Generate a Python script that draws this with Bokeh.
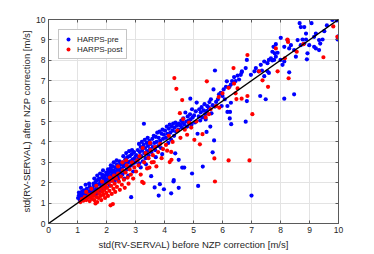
from bokeh.plotting import figure
from bokeh.models import LinearAxis, Slope, Legend, LegendItem
from bokeh.embed import file_html
from bokeh.resources import INLINE

ticks = [0, 1, 2, 3, 4, 5, 6, 7, 8, 9, 10]

pre_pts = [
    (1.02,1.25),(1.05,1.38),(1.08,1.15),(1.10,1.45),(1.12,1.30),(1.15,1.55),(1.18,1.22),(1.20,1.40),(1.22,1.62),(1.25,1.35),
    (1.27,1.50),(1.30,1.28),(1.32,1.70),(1.35,1.45),(1.37,1.58),(1.40,1.32),(1.42,1.80),(1.45,1.50),(1.47,1.65),(1.50,1.40),
    (1.12,1.75),(1.28,1.90),(1.40,1.95),(1.05,1.52),
    (1.52,1.72),(1.55,1.55),(1.57,1.88),(1.60,1.62),(1.62,2.00),(1.65,1.75),(1.67,1.48),(1.70,1.90),(1.72,2.15),(1.75,1.68),
    (1.77,1.95),(1.80,2.05),(1.82,1.80),(1.85,2.25),(1.87,1.98),(1.90,2.10),(1.92,1.85),(1.95,2.35),(1.97,2.05),(1.99,2.50),
    (1.58,2.20),(1.68,2.35),(1.78,2.45),(1.88,2.60),(1.62,1.38),(1.73,1.58),(1.83,1.62),(1.93,1.70),(1.55,1.95),(1.65,2.10),
    (1.75,2.20),(1.85,2.40),(1.95,2.20),
    (2.02,2.15),(2.04,2.40),(2.06,1.95),(2.08,2.30),(2.10,2.55),(2.12,2.20),(2.14,2.70),(2.16,2.35),(2.18,2.10),(2.20,2.45),
    (2.22,2.80),(2.24,2.30),(2.26,2.60),(2.28,2.50),(2.30,2.20),(2.32,2.75),(2.34,2.55),(2.36,2.90),(2.38,2.40),(2.40,2.65),
    (2.42,2.30),(2.44,2.85),(2.46,2.60),(2.48,2.50),(2.50,2.95),(2.05,2.65),(2.15,2.85),(2.25,3.00),(2.35,3.10),(2.45,3.05),
    (2.12,1.85),(2.28,2.05),(2.40,2.15),(2.08,2.50),(2.18,2.60),(2.30,2.40),
    (2.52,2.70),(2.55,2.40),(2.57,3.00),(2.60,2.80),(2.62,2.55),(2.65,3.15),(2.67,2.90),(2.70,2.65),(2.72,3.25),(2.75,3.00),
    (2.77,2.75),(2.80,3.30),(2.82,3.05),(2.85,2.85),(2.87,3.40),(2.90,3.15),(2.92,2.95),(2.95,3.50),(2.97,3.20),(2.99,3.00),
    (2.58,3.30),(2.68,3.45),(2.78,3.55),(2.88,3.60),(2.62,2.20),(2.75,2.35),(2.85,1.29),(2.92,2.55),(2.55,2.90),(2.70,3.05),
    (3.02,3.35),(3.05,3.10),(3.08,3.60),(3.10,3.25),(3.13,2.95),(3.15,3.50),(3.18,3.75),(3.20,3.30),(3.23,3.60),(3.25,3.05),
    (3.28,3.85),(3.30,3.45),(3.33,3.70),(3.35,3.20),(3.38,3.95),(3.40,3.55),(3.43,3.80),(3.45,3.35),(3.48,4.05),(3.50,3.65),
    (3.12,3.90),(3.22,4.00),(3.32,4.10),(3.42,4.20),(3.29,4.89),(3.18,2.75),(3.36,2.90),(3.54,2.32),
    (3.52,3.90),(3.55,3.50),(3.58,4.15),(3.60,3.75),(3.63,4.30),(3.65,3.95),(3.68,3.60),(3.70,4.25),(3.73,4.00),(3.75,4.45),
    (3.78,3.80),(3.80,4.20),(3.83,4.50),(3.85,4.05),(3.88,3.70),(3.90,4.40),(3.93,4.60),(3.95,4.15),(3.98,4.35),(3.66,1.77),
    (3.80,1.37),(3.84,1.93),(3.98,1.68),(3.70,3.25),(3.92,3.40),
    (4.02,4.55),(4.05,4.20),(4.08,4.75),(4.10,4.40),(4.13,3.95),(4.15,4.65),(4.18,4.85),(4.20,4.45),(4.23,4.10),(4.25,4.75),
    (4.28,4.55),(4.30,4.90),(4.33,4.30),(4.35,4.70),(4.38,4.95),(4.40,4.50),(4.43,4.80),(4.45,4.85),(4.48,4.60),(4.50,4.90),
    (4.23,1.48),(4.31,2.06),(4.32,2.13),(4.37,3.44),(4.49,3.12),(4.49,1.75),(4.61,2.74),(4.68,2.74),
    (4.55,4.80),(4.58,5.05),(4.60,4.70),(4.63,4.95),(4.65,5.15),(4.68,4.85),(4.72,5.44),(4.75,5.00),(4.78,4.75),(4.80,5.25),
    (4.83,5.05),(4.85,4.90),(4.88,5.35),(4.90,5.10),(4.93,4.85),(4.95,5.60),(4.97,5.20),(4.89,6.12),(4.95,2.45),
    (5.02,5.30),(5.05,4.95),(5.08,5.50),(5.11,5.93),(5.14,4.40),(5.16,1.84),(5.18,5.25),(5.20,5.60),(5.23,5.05),(5.25,5.45),
    (5.28,5.70),(5.30,5.20),(5.32,2.79),(5.35,5.55),(5.38,5.85),(5.40,5.36),(5.42,5.10),(5.45,4.49),(5.46,5.52),(5.48,5.75),
    (5.53,5.68),(5.58,4.75),(5.60,6.09),(5.66,5.80),(5.66,3.49),(5.69,6.57),(5.71,4.07),(5.74,7.50),(5.74,5.73),(5.78,5.96),
    (5.84,6.09),(5.88,6.33),(5.94,6.41),(5.97,5.76),(5.55,5.95),(5.62,5.40),
    (6.00,6.25),(6.04,6.57),(6.08,6.09),(6.12,6.70),(6.15,6.97),(6.17,5.76),(6.17,5.47),(6.24,6.70),(6.25,5.15),(6.26,5.47),
    (6.29,6.81),(6.29,5.92),(6.30,4.87),(6.33,6.98),(6.40,7.18),(6.45,6.98),
    (6.52,7.25),(6.57,7.06),(6.63,7.29),(6.66,7.41),(6.67,7.46),(6.80,7.62),(6.80,4.99),(6.84,8.02),(6.84,6.00),(6.98,7.29),
    (7.00,1.37),
    (7.10,7.46),(7.15,7.62),(7.24,7.46),(7.30,6.25),(7.32,7.78),(7.36,7.50),(7.44,7.94),(7.44,7.22),(7.49,6.09),
    (7.55,7.86),(7.55,7.46),(7.60,8.02),(7.60,7.38),(7.67,8.10),(7.72,8.42),(7.72,7.99),(7.76,8.66),(7.78,8.02),(7.80,8.34),
    (7.84,8.79),(7.84,8.18),(7.90,8.37),(8.00,8.02),
    (8.01,9.10),(8.07,7.78),(8.13,8.66),(8.13,7.94),(8.13,6.12),(8.24,8.99),(8.30,8.58),(8.30,7.41),(8.36,8.74),(8.47,8.50),
    (8.47,6.33),(8.53,8.18),(8.59,8.99),(8.66,9.82),(8.70,9.63),(8.70,8.74),(8.76,9.02),(8.82,9.63),(8.82,8.82),(8.88,9.31),
    (8.88,9.02),(8.91,8.05),(8.93,8.34),(8.99,8.74),
    (9.07,9.82),(9.16,9.15),(9.16,8.66),(9.22,9.31),(9.22,8.58),(9.33,8.99),(9.33,8.50),(9.37,8.82),(9.45,9.02),(9.51,9.43),
    (9.60,9.71),(9.79,9.98),(9.94,9.95),(9.99,9.18),(9.97,9.02),
]

post_pts = [
    (1.10,1.05),(1.15,1.20),(1.20,1.12),(1.25,1.30),(1.30,1.15),(1.35,1.25),(1.40,1.40),(1.42,1.10),(1.45,1.30),(1.50,1.20),
    (1.52,1.45),(1.55,1.35),(1.58,1.15),(1.60,1.50),(1.62,0.98),(1.65,1.30),(1.68,1.05),(1.70,1.60),(1.72,1.25),(1.75,1.45),
    (1.78,1.70),(1.80,1.35),(1.82,1.15),(1.85,1.55),(1.88,1.80),(1.90,1.40),(1.92,1.65),(1.95,1.25),(1.97,1.90),(1.99,1.50),
    (1.30,1.55),(1.48,1.70),(1.65,1.85),(1.85,2.05),
    (2.02,1.75),(2.05,1.35),(2.08,2.00),(2.10,1.60),(2.12,2.25),(2.14,0.89),(2.16,1.85),(2.18,1.45),(2.20,2.10),(2.22,0.95),
    (2.24,1.70),(2.26,2.35),(2.28,1.95),(2.30,1.55),(2.33,2.20),(2.36,1.80),(2.40,2.45),(2.43,2.05),(2.46,1.65),(2.50,2.30),
    (2.53,1.90),(2.56,2.60),(2.60,2.15),(2.63,1.75),(2.66,2.50),(2.70,2.85),(2.73,2.25),(2.76,1.95),(2.80,2.65),(2.84,2.40),
    (2.88,3.00),(2.92,2.20),(2.96,2.75),(2.40,2.80),(2.55,3.00),(2.68,3.10),
    (3.02,2.55),(3.06,3.10),(3.10,2.85),(3.14,3.30),(3.18,2.40),(3.23,2.04),(3.28,1.98),(3.30,3.00),(3.35,3.45),(3.40,2.70),
    (3.45,3.20),(3.48,2.74),(3.52,3.60),(3.56,3.00),(3.60,3.35),(3.63,3.01),(3.68,3.75),(3.72,2.80),(3.78,3.50),(3.85,3.90),
    (3.90,3.20),(3.95,3.65),(3.25,3.70),(3.50,3.95),
    (4.05,3.85),(4.09,3.57),(4.15,4.30),(4.18,3.01),(4.23,3.51),(4.24,3.12),(4.28,4.00),(4.34,7.13),(4.41,6.60),(4.45,4.55),
    (4.53,5.41),(4.55,4.20),(4.61,6.05),(4.64,5.12),(4.70,4.60),(4.78,4.35),(4.85,4.95),(4.92,4.70),
    (5.03,4.10),(5.10,5.00),(5.22,3.88),(5.31,4.38),(5.42,5.20),(5.46,6.97),(5.53,5.36),(5.59,5.60),(5.72,3.19),(5.74,2.06),
    (5.78,5.76),(5.87,6.20),(5.89,5.68),
    (6.00,6.38),(6.21,6.65),(6.21,3.09),(6.38,7.62),(6.40,6.86),(6.45,6.38),(6.48,6.10),(6.52,6.62),(6.66,6.12),(6.86,8.26),
    (6.86,6.25),(6.93,3.09),
    (7.03,5.36),(7.26,7.46),(7.38,7.02),(7.57,6.70),(7.84,8.58),(7.90,7.46),(8.15,8.10),(8.24,9.02),(8.26,8.90),(8.28,7.12),
    (8.56,8.42),(8.79,8.79),(9.48,8.15),(9.82,9.66),(9.96,9.15),
]

pre_x = [p[0] for p in pre_pts]
pre_y = [p[1] for p in pre_pts]
post_x = [p[0] for p in post_pts]
post_y = [p[1] for p in post_pts]

TXT = "#262626"
AX = "#5a5a5a"
FONT = "Liberation Sans"

p = figure(width=366, height=252, x_range=(0, 10), y_range=(0, 10),
           output_backend="svg", toolbar_location=None,
           min_border_left=48, min_border_right=28, min_border_top=19, min_border_bottom=20)
p.background_fill_color = "white"
p.border_fill_color = "white"
p.outline_line_color = AX

for ax in (p.xaxis[0], p.yaxis[0]):
    ax.ticker = ticks
    ax.major_tick_in = 3
    ax.major_tick_out = 0
    ax.minor_tick_line_color = None
    ax.axis_line_color = AX
    ax.major_tick_line_color = AX
    ax.major_label_text_font = FONT
    ax.major_label_text_font_size = "8.5px"
    ax.major_label_text_color = TXT
    ax.axis_label_text_font = FONT
    ax.axis_label_text_font_size = "9.5px"
    ax.axis_label_text_font_style = "normal"
    ax.axis_label_text_color = TXT
    ax.major_label_standoff = 3

p.xaxis.axis_label_standoff = 3
p.yaxis.axis_label_standoff = 1
p.xaxis.axis_label = "std(RV-SERVAL) before NZP correction [m/s]"
p.yaxis.axis_label = "std(RV-SERVAL) after NZP correction [m/s]"

for loc in ("right", "above"):
    a = LinearAxis(ticker=ticks, major_label_text_color=None, major_label_text_font_size="8px",
                   major_tick_in=3, major_tick_out=0, minor_tick_line_color=None,
                   axis_line_color=AX, major_tick_line_color=AX, major_label_standoff=0)
    p.add_layout(a, loc)

p.xgrid.ticker = ticks
p.ygrid.ticker = ticks
p.grid.grid_line_color = "#e3e3e3"
p.grid.grid_line_width = 1

r_pre = p.scatter(pre_x, pre_y, size=4.2, fill_color="#0000ff", line_color=None)
r_post = p.scatter(post_x, post_y, size=4.2, fill_color="#ff0000", line_color=None)

p.add_layout(Slope(gradient=1, y_intercept=0, line_color="black", line_width=1.4))

legend = Legend(items=[LegendItem(label="HARPS-pre", renderers=[r_pre]),
                       LegendItem(label="HARPS-post", renderers=[r_post])],
                location="top_left")
legend.margin = 10
legend.padding = 4
legend.spacing = 0
legend.glyph_width = 10
legend.glyph_height = 10
legend.label_height = 10
legend.label_standoff = 4
legend.label_text_font = FONT
legend.label_text_font_size = "8px"
legend.label_text_color = TXT
legend.border_line_color = "#8c8c8c"
legend.border_line_width = 1
legend.background_fill_alpha = 1
p.add_layout(legend, "center")

open("out.html", "w").write(file_html(p, INLINE))
